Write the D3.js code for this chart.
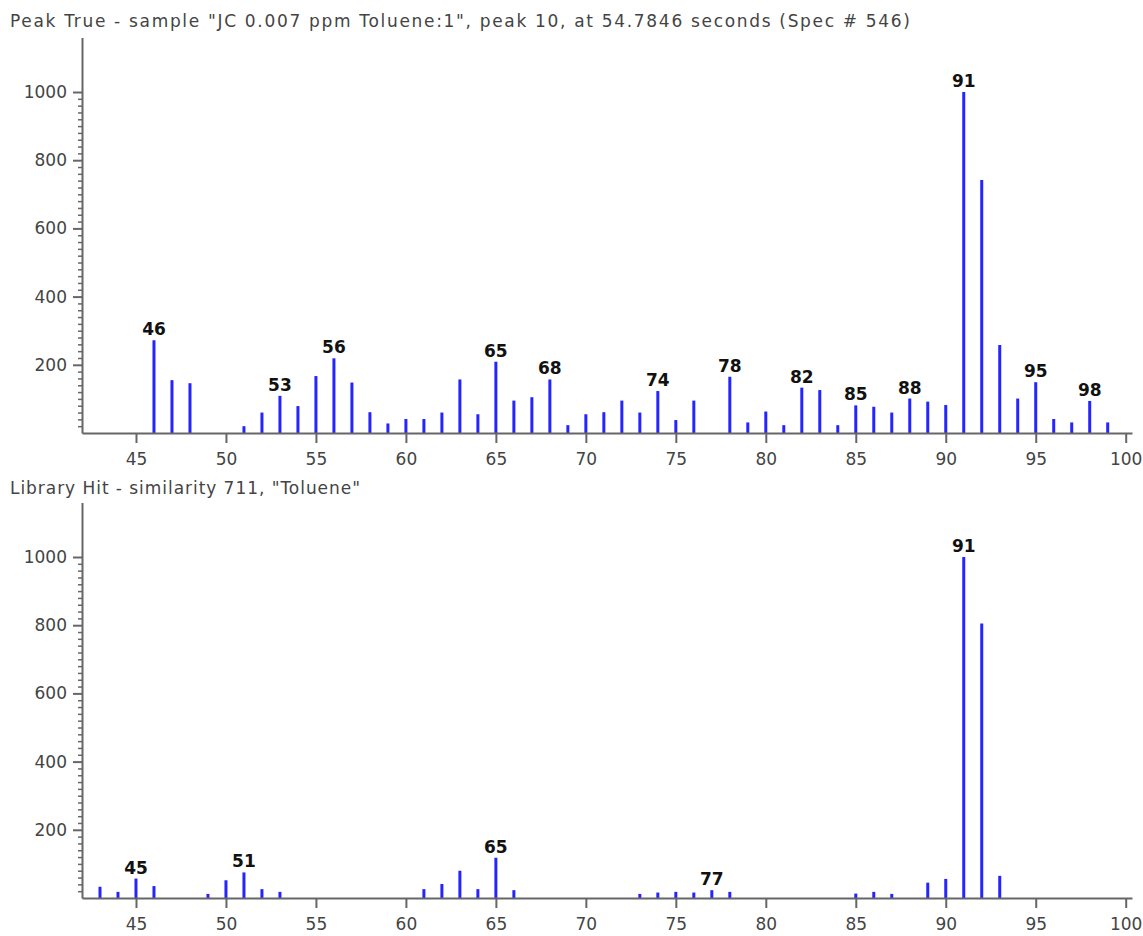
<!DOCTYPE html>
<html>
<head>
<meta charset="utf-8">
<script src="https://cdn.jsdelivr.net/npm/d3@7"></script>
<style>
  body { margin: 0; background: #fff; }
  svg text { font-family: "DejaVu Sans", sans-serif; }
</style>
</head>
<body>
<div id="container"></div>
<script>
// DATA
const sampleTitle = 'Peak True - sample "JC 0.007 ppm Toluene:1", peak 10, at 54.7846 seconds (Spec # 546)';
const sampleMass = [46, 47, 48, 51, 52, 53, 54, 55, 56, 57, 58, 59, 60, 61, 62, 63, 64, 65, 66, 67, 68, 69, 70, 71, 72, 73, 74, 75, 76, 78, 79, 80, 81, 82, 83, 84, 85, 86, 87, 88, 89, 90, 91, 92, 93, 94, 95, 96, 97, 98, 99];
const sampleAbund = [272, 155, 146, 20, 60, 109, 79, 167, 219, 148, 61, 28, 41, 41, 60, 157, 55, 209, 95, 105, 157, 23, 55, 61, 95, 60, 123, 38, 95, 165, 31, 63, 23, 133, 126, 23, 81, 77, 60, 101, 92, 82, 1000, 742, 258, 101, 149, 41, 31, 94, 31];
const sampleLabels = [46, 53, 56, 65, 68, 74, 78, 82, 85, 88, 91, 95, 98];

const libTitle = 'Library Hit - similarity 711, "Toluene"';
const libMass = [43, 44, 45, 46, 49, 50, 51, 52, 53, 61, 62, 63, 64, 65, 66, 73, 74, 75, 76, 77, 78, 85, 86, 87, 89, 90, 91, 92, 93];
const libAbund = [33, 18, 57, 35, 12, 52, 75, 26, 18, 26, 41, 80, 26, 118, 23, 12, 16, 18, 16, 23, 18, 13, 18, 12, 45, 56, 1000, 805, 65];
const libLabels = [45, 51, 65, 77, 91];

const xTicks = [45, 50, 55, 60, 65, 70, 75, 80, 85, 90, 95, 100];
const yTicks = [200, 400, 600, 800, 1000];
const yMinorTicks = d3.range(20, 1000, 20).filter(v => v % 200 !== 0);

const width = 1143, height = 936;

const svg = d3.select("#container").append("svg")
  .attr("width", width)
  .attr("height", height);

// one panel = title + axes + stick spectrum
function drawPanel(cfg) {
  const x = d3.scaleLinear().domain([42, 100.35]).range([82, 1132]);
  const y = d3.scaleLinear().domain([0, 1160]).range([cfg.base, cfg.base - 1160 * 0.341]);

  const g = svg.append("g");

  g.append("text")
    .attr("x", 10)
    .attr("y", cfg.titleY)
    .attr("fill", "#444")
    .attr("textLength", cfg.titleLen)
    .attr("lengthAdjust", "spacing")
    .style("font-size", "17px")
    .text(cfg.title);

  // sticks
  const data = cfg.mass.map((m, i) => ({ m: m, v: cfg.abund[i] }));
  g.selectAll("line.stick")
    .data(data)
    .join("line")
    .attr("class", "stick")
    .attr("x1", d => x(d.m))
    .attr("x2", d => x(d.m))
    .attr("y1", y(0))
    .attr("y2", d => y(d.v))
    .attr("stroke", "#2424ff")
    .attr("stroke-width", 3);

  // x axis
  const xa = g.append("g")
    .attr("transform", `translate(0,${y(0)})`)
    .call(d3.axisBottom(x).tickValues(xTicks).tickSize(10).tickPadding(10).tickSizeOuter(0));
  // y axis
  const ya = g.append("g")
    .attr("transform", `translate(${x(42)},0)`)
    .call(d3.axisLeft(y).tickValues(yTicks).tickSize(9).tickPadding(6)
      .tickFormat(d3.format("d")).tickSizeOuter(0));
  // minor ticks on y
  const ym = g.append("g")
    .attr("transform", `translate(${x(42)},0)`)
    .call(d3.axisLeft(y).tickValues(yMinorTicks).tickSize(4).tickFormat("").tickSizeOuter(0));
  ym.select(".domain").remove();

  [xa, ya, ym].forEach(a => {
    a.selectAll("path, line").attr("stroke", "#666").attr("stroke-width", 2);
    a.selectAll("text").attr("fill", "#444").style("font-size", "17px");
  });
  ym.selectAll("line").attr("stroke-width", 1.5);

  // peak labels
  g.selectAll("text.peak")
    .data(data.filter(d => cfg.labels.includes(d.m)))
    .join("text")
    .attr("class", "peak")
    .attr("x", d => x(d.m))
    .attr("y", d => y(d.v) - 5)
    .attr("text-anchor", "middle")
    .attr("fill", "#111")
    .style("font-size", "17px")
    .style("font-weight", "bold")
    .text(d => d.m);
}

drawPanel({ title: sampleTitle, titleY: 27, titleLen: 900, base: 433, mass: sampleMass, abund: sampleAbund, labels: sampleLabels });
drawPanel({ title: libTitle, titleY: 494, titleLen: 350, base: 898, mass: libMass, abund: libAbund, labels: libLabels });
</script>
</body>
</html>
